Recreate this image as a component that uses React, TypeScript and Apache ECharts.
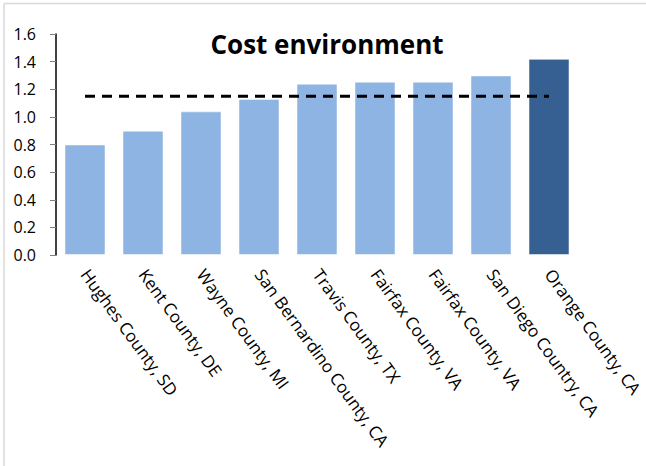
import React, { useEffect, useRef } from "react";
import * as echarts from "echarts";

const categories = [
  "Hughes County, SD",
  "Kent County, DE",
  "Wayne County, MI",
  "San Bernardino County, CA",
  "Travis County, TX",
  "Fairfax County, VA",
  "Fairfax County, VA ",
  "San Diego Country, CA",
  "Orange County, CA",
];
const values = [0.8, 0.9, 1.04, 1.13, 1.24, 1.255, 1.255, 1.3, 1.42];
const highlightIndex = 8;
const average = 1.15;
const yTicks = [0, 0.2, 0.4, 0.6, 0.8, 1.0, 1.2, 1.4, 1.6];
const titleText = "Cost environment";

export default function App() {
  const ref = useRef<HTMLDivElement>(null);
  useEffect(() => {
    if (!ref.current) return;
    const chart = echarts.init(ref.current, null, { renderer: "svg" });
    const font = "'Open Sans', Lato, sans-serif";
    chart.setOption({
      animation: false,
      backgroundColor: "#ffffff",
      textStyle: { fontFamily: font },
      grid: { left: 56, right: 68, top: 34, bottom: 211, containLabel: false },
      graphic: [
        { type: "line", shape: { x1: 4, y1: 3.5, x2: 646, y2: 3.5 }, style: { stroke: "#d9d9d9", lineWidth: 1.5 } },
        { type: "line", shape: { x1: 4, y1: 3.5, x2: 4, y2: 466 }, style: { stroke: "#d9d9d9", lineWidth: 1.5 } },
        {
          type: "text",
          x: 327,
          y: 44,
          style: {
            text: titleText,
            font: "bold 26px " + font,
            fill: "#000",
            align: "center",
            verticalAlign: "middle",
          },
        },
      ],
      xAxis: {
        type: "category",
        data: categories,
        axisLine: { show: false },
        axisTick: { show: false },
        axisLabel: {
          interval: 0,
          rotate: -54,
          margin: 16,
          color: "#000",
          fontSize: 17,
          fontFamily: font,
        },
      },
      yAxis: {
        type: "value",
        min: yTicks[0],
        max: yTicks[yTicks.length - 1],
        interval: 0.2,
        splitLine: { show: false },
        axisLine: { show: true, lineStyle: { color: "#000", width: 1.5 } },
        axisTick: { show: true, length: 6, lineStyle: { color: "#808080" } },
        axisLabel: {
          margin: 20,
          color: "#000",
          fontSize: 16,
          fontFamily: font,
          formatter: (v: number) => v.toFixed(1),
        },
      },
      series: [
        {
          type: "bar",
          data: values.map((v, i) => ({
            value: v,
            itemStyle: { color: i === highlightIndex ? "#366092" : "#8EB4E3" },
          })),
          barWidth: 41,
          itemStyle: { borderColor: "rgba(255,255,255,0.5)", borderWidth: 1 },
        },
        {
          type: "line",
          data: categories.map(() => average),
          symbol: "none",
          lineStyle: { color: "#000", width: 3, type: [10, 7] },
          z: 5,
        },
      ],
    });
    return () => chart.dispose();
  }, []);
  return (
    <div
      ref={ref}
      style={{ position: "absolute", left: 0, top: 0, width: 646, height: 466 }}
    />
  );
}
